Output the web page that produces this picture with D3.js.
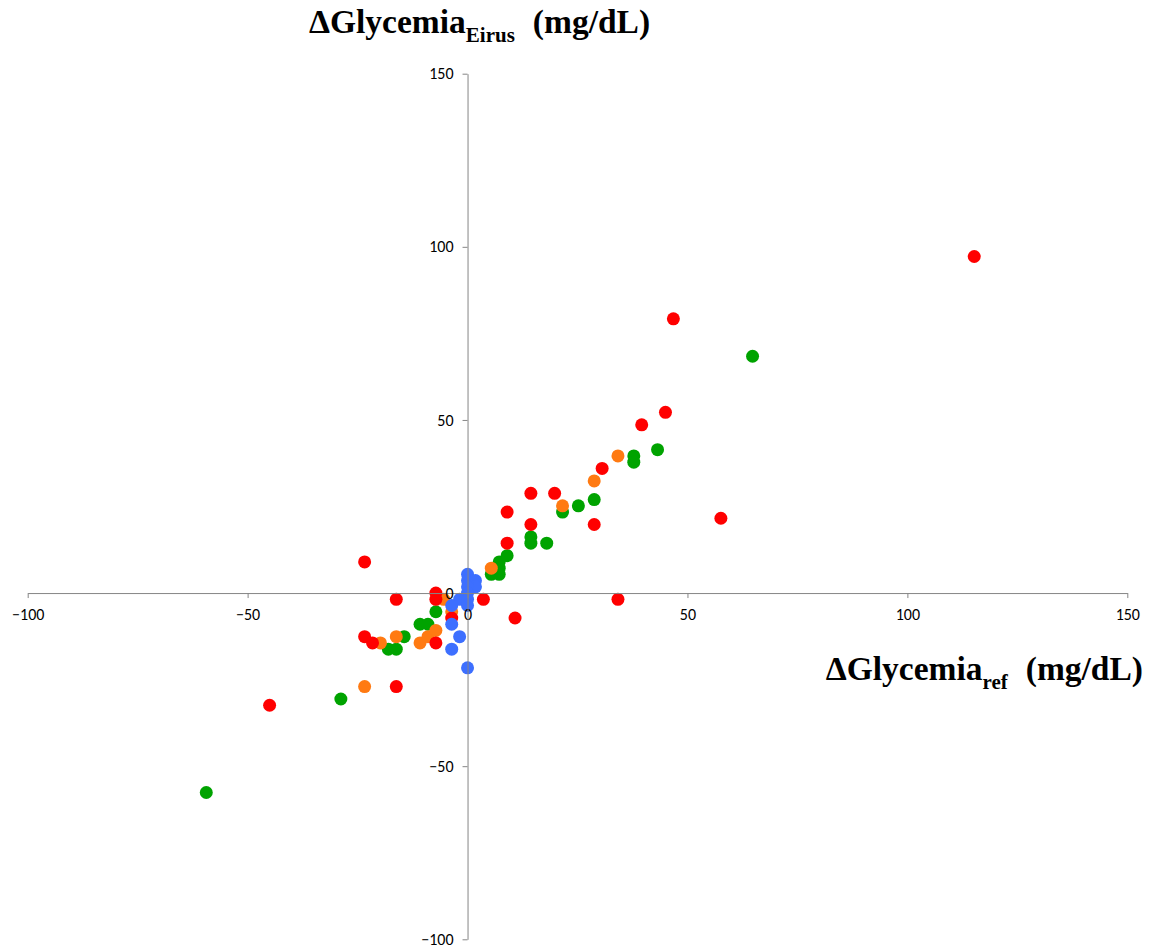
<!DOCTYPE html>
<html>
<head>
<meta charset="utf-8">
<script src="https://cdn.jsdelivr.net/npm/d3@7"></script>
<style>
  body { margin: 0; background: #fff; }
  .tick text { font-family: Calibri, Carlito, Lato, "Open Sans", sans-serif; font-size: 16px; fill: #000; }
  .title { font-family: "Liberation Serif", "Times New Roman", serif; font-weight: bold; fill: #000; }
</style>
</head>
<body>
<div id="chart"></div>
<script>
// Data (mg/dL), [ref, Eirus]
const greenPoints = [
  [64.8, 68.4], [43.2, 41.4], [37.8, 39.6], [37.8, 37.8], [28.8, 27], [25.2, 25.2],
  [21.6, 23.4], [14.4, 16.2], [14.4, 14.4], [18, 14.4], [9, 10.8], [7.2, 9],
  [7.2, 7.2], [5.4, 5.4], [7.2, 5.4], [-7.2, -5.4], [-10.8, -9], [-9, -9],
  [-14.4, -12.6], [-18, -16.2], [-16.2, -16.2], [-28.8, -30.6], [-59.4, -57.6]
]
const orangePoints = [
  [34.2, 39.6], [28.8, 32.4], [21.6, 25.2], [5.4, 7.2], [-5.4, -1.8], [-3.6, -5.4],
  [-19.8, -14.4], [-16.2, -12.6], [-10.8, -14.4], [-9, -12.6], [-7.2, -10.8], [-23.4, -27]
]
const redPoints = [
  [115.2, 97.2], [46.8, 79.2], [45, 52.2], [39.6, 48.6], [30.6, 36], [14.4, 28.8],
  [19.8, 28.8], [9, 23.4], [14.4, 19.8], [28.8, 19.8], [57.6, 21.6], [9, 14.4],
  [-23.4, 9], [-16.2, -1.8], [3.6, -1.8], [34.2, -1.8], [10.8, -7.2], [-7.2, 0],
  [-7.2, -1.8], [-3.6, -7.2], [-23.4, -12.6], [-21.6, -14.4], [-7.2, -14.4],
  [-16.2, -27], [-45, -32.4]
]
const bluePoints = [
  [0, 5.4], [0, 3.6], [1.8, 3.6], [1.8, 1.8], [0, 1.8], [0, 0], [-1.8, -1.8],
  [0, -1.8], [0, -3.6], [-3.6, -3.6], [-3.6, -9], [-1.8, -12.6], [-3.6, -16.2], [0, -21.6]
]
const xTicks = [-100, -50, 0, 50, 100, 150]
const yTicks = [-100, -50, 0, 50, 100, 150]

const series = [
  { color: "#00a300", points: greenPoints },
  { color: "#ff7a12", points: orangePoints },
  { color: "#ff0000", points: redPoints },
  { color: "#3d6fff", points: bluePoints }
]

const W = 1150, H = 950
const svg = d3.select("#chart").append("svg").attr("width", W).attr("height", H)

const x = d3.scaleLinear().domain([-100, 150]).range([27.7, 1127.3])
const y = d3.scaleLinear().domain([-100, 150]).range([939.3, 73.7])

// points first, axes on top (labels sit over markers like in the original)
series.forEach(s => {
  svg.append("g").selectAll("circle")
    .data(s.points)
    .join("circle")
    .attr("cx", d => x(d[0]))
    .attr("cy", d => y(d[1]))
    .attr("r", 6.5)
    .attr("fill", s.color)
})

const axisColor = "#868686"

const xAxis = svg.append("g")
  .attr("transform", `translate(0, ${y(0)})`)
  .call(d3.axisBottom(x).tickValues(xTicks).tickSize(5).tickPadding(11).tickSizeOuter(0))
xAxis.select(".domain").attr("stroke", axisColor)
xAxis.selectAll(".tick line").attr("stroke", axisColor)

const yAxis = svg.append("g")
  .attr("transform", `translate(${x(0)}, 0)`)
  .call(d3.axisLeft(y).tickValues(yTicks).tickSize(5).tickPadding(9).tickSizeOuter(0))
yAxis.select(".domain").attr("stroke", axisColor)
yAxis.selectAll(".tick line").attr("stroke", axisColor)

// axis titles
const topTitle = svg.append("text").attr("class", "title")
  .attr("x", 309).attr("y", 33).attr("font-size", 33.5)
topTitle.append("tspan").text("ΔGlycemia")
topTitle.append("tspan").attr("font-size", 21).attr("dy", 9).text("Eirus")
topTitle.append("tspan").attr("dy", -9).attr("dx", 18).text("(mg/dL)")

const bottomTitle = svg.append("text").attr("class", "title")
  .attr("x", 1143).attr("y", 680).attr("font-size", 33.5).attr("text-anchor", "end")
bottomTitle.append("tspan").text("ΔGlycemia")
bottomTitle.append("tspan").attr("font-size", 21).attr("dy", 9).text("ref")
bottomTitle.append("tspan").attr("dy", -9).attr("dx", 18).text("(mg/dL)")
</script>
</body>
</html>
